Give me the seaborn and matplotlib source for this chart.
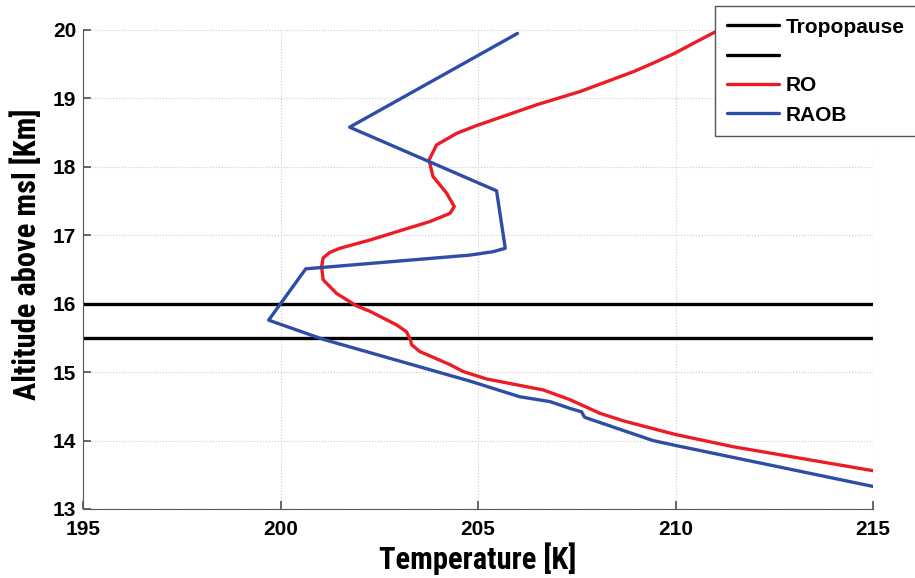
import matplotlib
matplotlib.use('Agg')
import matplotlib.pyplot as plt
import pandas as pd
import seaborn as sns

# RAOB profile (temperature K, altitude km)
raob_temp = [206.0, 201.75, 205.47, 205.69, 205.38, 204.79, 200.64, 199.70, 201.08,
             204.79, 206.06, 206.82, 207.33, 207.62, 207.70, 209.43, 209.99, 215.0]
raob_alt = [19.95, 18.58, 17.65, 16.81, 16.76, 16.71, 16.51, 15.76, 15.48,
            14.87, 14.64, 14.57, 14.47, 14.42, 14.34, 14.00, 13.93, 13.33]

# RO profile
ro_temp = [211.1, 210.5, 209.98, 209.45, 208.93, 207.58, 206.5, 205.6, 204.95, 204.46,
           203.95, 203.76, 203.86, 204.20, 204.40, 204.29, 203.78, 203.10, 202.26, 201.50,
           201.25, 201.08, 201.04, 201.08, 201.42, 201.92, 202.26, 202.94, 203.19, 203.29,
           203.32, 203.53, 204.29, 204.62, 205.22, 206.65, 207.32, 208.08, 208.67, 209.99,
           211.46, 215.0]
ro_alt = [20.0, 19.82, 19.66, 19.52, 19.39, 19.10, 18.91, 18.73, 18.60, 18.49,
          18.32, 18.10, 17.86, 17.62, 17.42, 17.32, 17.20, 17.08, 16.93, 16.81,
          16.75, 16.67, 16.54, 16.35, 16.15, 15.97, 15.89, 15.69, 15.59, 15.47,
          15.40, 15.30, 15.11, 15.01, 14.90, 14.74, 14.60, 14.40, 14.29, 14.09,
          13.91, 13.56]

tropopause_alt = [16.0, 15.5]
legend_labels = ['Tropopause', '', 'RO', 'RAOB']

roDF = pd.DataFrame({'temp': ro_temp, 'alt': ro_alt})
raobDF = pd.DataFrame({'temp': raob_temp, 'alt': raob_alt})

sns.set_theme(style='white')
plt.rcParams['font.family'] = ['Liberation Sans', 'DejaVu Sans']
plt.rcParams['text.color'] = 'black'
plt.rcParams['axes.labelcolor'] = 'black'

fig = plt.figure(figsize=(9.15, 5.78), dpi=100)
ax = fig.add_axes([83 / 915, 1 - 509 / 578, 790 / 915, 479 / 578])

handles = []
for h in tropopause_alt:
    handles.append(ax.axhline(h, color='black', linewidth=2.4))

sns.lineplot(data=roDF, x='temp', y='alt', sort=False, estimator=None,
             color='#ED1C24', linewidth=2.4, ax=ax)
sns.lineplot(data=raobDF, x='temp', y='alt', sort=False, estimator=None,
             color='#2E4DA7', linewidth=2.4, ax=ax)
handles += ax.lines[2:4]

ax.set_xlim(195, 215)
ax.set_ylim(13, 20)
ax.set_xticks(range(195, 216, 5))
ax.set_yticks(range(13, 21))
ax.grid(True, linestyle=':', color='#cccccc', linewidth=0.8)

ax.spines['top'].set_visible(False)
ax.spines['right'].set_visible(False)
for s in ['left', 'bottom']:
    ax.spines[s].set_color('#555555')
    ax.spines[s].set_linewidth(0.8)

ax.tick_params(axis='both', direction='in', length=6, color='#555555',
               labelcolor='black', labelsize=15, left=True, bottom=True)
ax.tick_params(axis='x', pad=8)
ax.tick_params(axis='y', pad=5)
for lbl in ax.get_xticklabels() + ax.get_yticklabels():
    lbl.set_fontweight('bold')

# narrow bold face for the axis titles
label_font = ['Roboto Condensed', 'Noto Sans', 'DejaVu Sans']
ax.set_xlabel('Temperature [K]', fontsize=22, fontweight='bold',
              fontstretch='condensed', family=label_font, labelpad=2)
ax.set_ylabel('Altitude above msl [Km]', fontsize=22, fontweight='bold',
              fontstretch='condensed', family=label_font)
ax.yaxis.set_label_coords(-0.052, 0.532)

leg = ax.legend(handles, legend_labels, loc='upper right',
                bbox_to_anchor=(1.055, 1.05), borderaxespad=0,
                prop={'size': 15, 'weight': 'bold'}, handlelength=2.5,
                handletextpad=0.35, labelspacing=0.5, borderpad=0.55,
                fancybox=False, framealpha=1.0, edgecolor='#555555')
leg.get_frame().set_linewidth(1.0)

fig.savefig('out.png', dpi=100)
